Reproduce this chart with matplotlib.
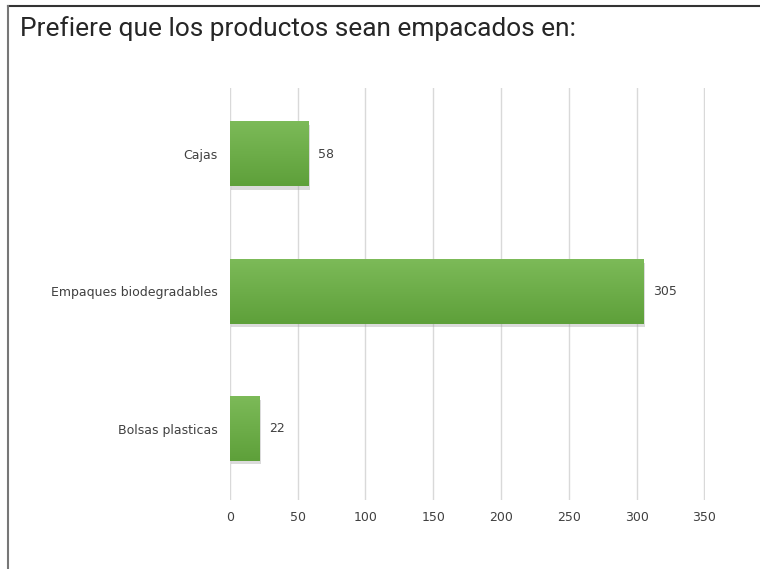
import numpy as np
import matplotlib.pyplot as plt
from matplotlib.colors import LinearSegmentedColormap
from matplotlib.lines import Line2D

categories = ["Bolsas plasticas", "Empaques biodegradables", "Cajas"]
values = [22, 305, 58]
xticks = [0, 50, 100, 150, 200, 250, 300, 350]
title = "Prefiere que los productos sean empacados en:"

fig = plt.figure(figsize=(7.6, 5.69), dpi=100)
ax = fig.add_axes([0.3026, 0.121, 0.6250, 0.724])

y = list(range(len(categories)))
bar_h = 0.47
# faint shadow under each bar
ax.barh([v - 0.025 for v in y], values, height=bar_h, left=1.0,
        color="#9a9a9a", alpha=0.35, zorder=2)
bars = ax.barh(y, values, height=bar_h, color="#6aad45", zorder=3)

# vertical light-to-dark gradient inside each bar
grad = np.linspace(0, 1, 64).reshape(-1, 1)
cmap = LinearSegmentedColormap.from_list("g", ["#5ea03a", "#7cba58"])
for b in bars:
    x0, y0 = b.get_x(), b.get_y()
    ax.imshow(grad, extent=(x0, x0 + b.get_width(), y0, y0 + b.get_height()),
              origin="lower", cmap=cmap, aspect="auto", zorder=3.5)

for yi, v in zip(y, values):
    ax.text(v + 7, yi, str(v), va="center", ha="left",
            fontsize=9, color="#404040")

ax.set_xlim(0, 350.5)
ax.set_ylim(-0.52, 2.48)
ax.set_xticks(xticks)
ax.set_xticklabels([str(t) for t in xticks], fontsize=9, color="#404040")
ax.set_yticks(y)
ax.set_yticklabels(categories, fontsize=9, color="#404040")
ax.tick_params(axis="x", length=0, pad=8)
ax.tick_params(axis="y", length=0, pad=9)
ax.grid(axis="x", color="#d9d9d9", linewidth=1, zorder=0)
ax.set_axisbelow(True)
for s in ax.spines.values():
    s.set_visible(False)

fig.text(20 / 760, 1 - 29 / 569, title, fontsize=18.9, family="Roboto",
         color="#262626", va="center", ha="left")

# frame lines at top and left edge of the screenshot
fig.add_artist(Line2D([8 / 760, 1], [1 - 6 / 569, 1 - 6 / 569],
                      transform=fig.transFigure, color="#333333", linewidth=1.5))
fig.add_artist(Line2D([8 / 760, 8 / 760], [0, 1 - 6 / 569],
                      transform=fig.transFigure, color="#777777", linewidth=1.5))

fig.savefig("out.png", dpi=100)
